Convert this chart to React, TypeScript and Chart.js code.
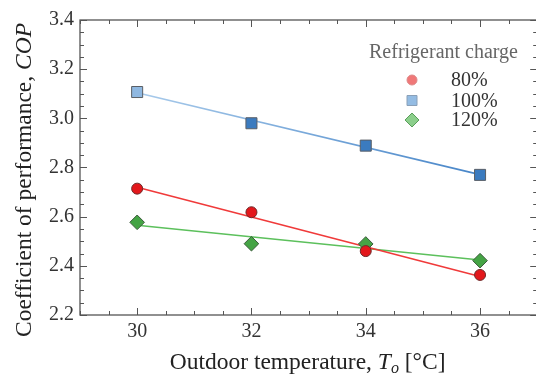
import React, { useEffect, useRef } from "react";
import { Chart, registerables } from "chart.js";

Chart.register(...registerables);

// ---- data ----
const temperatures = [30, 32, 34, 36];
const cop80 = [2.714, 2.618, 2.46, 2.363];
const cop100 = [3.107, 2.98, 2.889, 2.77];
const cop120 = [2.577, 2.49, 2.489, 2.421];

// fitted trend lines (end points)
const fitX = [30, 36];
const fit80 = [2.72, 2.357];
const fit100 = [3.104, 2.771];
const fit120 = [2.565, 2.424];

const seriesLabels = ["80%", "100%", "120%"];
const legendTitle = "Refrigerant charge";

const xTicks = [30, 32, 34, 36];
const yTicks = [2.2, 2.4, 2.6, 2.8, 3.0, 3.2, 3.4];

const FONT = "'Liberation Serif', 'Times New Roman', serif";

const pts = (xs: number[], ys: number[]) => xs.map((x, i) => ({ x, y: ys[i] }));

const framePlugin = {
  id: "frameTicks",
  afterDatasetsDraw(chart: any) {
    const { ctx, chartArea: a, scales } = chart;
    const xs = scales.x;
    const ys = scales.y;
    ctx.save();
    ctx.strokeStyle = "#555";
    ctx.lineWidth = 1.3;
    ctx.strokeRect(a.left, a.top, a.right - a.left, a.bottom - a.top);
    ctx.lineWidth = 1;
    for (let v = xs.min; v <= xs.max + 1e-9; v += 0.5) {
      const px = Math.round(xs.getPixelForValue(v)) + 0.5;
      const major = Math.abs(v / 2 - Math.round(v / 2)) < 1e-6;
      const len = major ? 7 : 4;
      ctx.beginPath();
      ctx.moveTo(px, a.bottom);
      ctx.lineTo(px, a.bottom - len);
      ctx.moveTo(px, a.top);
      ctx.lineTo(px, a.top + len);
      ctx.stroke();
    }
    for (let i = 0; i <= 24; i++) {
      const v = ys.min + i * 0.05;
      const py = Math.round(ys.getPixelForValue(v)) + 0.5;
      const len = i % 4 === 0 ? 7 : 4;
      ctx.beginPath();
      ctx.moveTo(a.left, py);
      ctx.lineTo(a.left + len, py);
      ctx.moveTo(a.right, py);
      ctx.lineTo(a.right - len, py);
      ctx.stroke();
    }
    ctx.restore();
  },
};

const titlesPlugin = {
  id: "axisTitles",
  afterDraw(chart: any) {
    const { ctx, chartArea: a } = chart;
    ctx.save();
    ctx.fillStyle = "#222";
    ctx.textBaseline = "alphabetic";
    ctx.textAlign = "left";
    const normal = `23.5px ${FONT}`;
    const italic = `italic 23.5px ${FONT}`;
    const sub = `italic 16px ${FONT}`;

    const parts: [string, string, number][] = [
      ["Outdoor temperature, ", normal, 0],
      ["T", italic, 0],
      ["o", sub, 4],
      [" [°C]", normal, 0],
    ];
    let total = 0;
    for (const [t, f] of parts) {
      ctx.font = f;
      total += ctx.measureText(t).width;
    }
    let x = (a.left + a.right) / 2 - total / 2 - 1;
    const baseY = 369;
    for (const [t, f, dy] of parts) {
      ctx.font = f;
      ctx.fillText(t, x, baseY + dy);
      x += ctx.measureText(t).width;
    }

    const yparts: [string, string][] = [
      ["Coefficient of performance, ", normal],
      ["COP", italic],
    ];
    let ytotal = 0;
    for (const [t, f] of yparts) {
      ctx.font = f;
      ytotal += ctx.measureText(t).width;
    }
    ctx.translate(31, 180);
    ctx.rotate(-Math.PI / 2);
    let yx = -ytotal / 2;
    for (const [t, f] of yparts) {
      ctx.font = f;
      ctx.fillText(t, yx, 0);
      yx += ctx.measureText(t).width;
    }
    ctx.restore();
  },
};

const legendPlugin = {
  id: "customLegend",
  afterDraw(chart: any) {
    const { ctx } = chart;
    ctx.save();
    ctx.font = `20px ${FONT}`;
    ctx.fillStyle = "#666";
    ctx.textAlign = "center";
    ctx.textBaseline = "alphabetic";
    ctx.fillText(legendTitle, 443.5, 58);

    const rowsY = [80, 100.5, 120];
    const mx = 412;
    ctx.textAlign = "left";
    ctx.textBaseline = "middle";
    rowsY.forEach((ry, i) => {
      ctx.lineWidth = 1;
      ctx.beginPath();
      if (i === 0) {
        ctx.arc(mx, ry, 5, 0, Math.PI * 2);
        ctx.fillStyle = "#f07878";
        ctx.strokeStyle = "#d88";
      } else if (i === 1) {
        ctx.rect(mx - 5, ry - 5, 10, 10);
        ctx.fillStyle = "#94bce3";
        ctx.strokeStyle = "#8aa0b8";
      } else {
        ctx.moveTo(mx, ry - 7);
        ctx.lineTo(mx + 7, ry);
        ctx.lineTo(mx, ry + 7);
        ctx.lineTo(mx - 7, ry);
        ctx.closePath();
        ctx.fillStyle = "#8ccf8c";
        ctx.strokeStyle = "#5a9e5a";
      }
      ctx.fill();
      ctx.stroke();
      ctx.fillStyle = "#333";
      ctx.font = `20px ${FONT}`;
      ctx.fillText(seriesLabels[i], 451, ry + 1);
    });
    ctx.restore();
  },
};

export default function App() {
  const ref = useRef<HTMLCanvasElement | null>(null);

  useEffect(() => {
    document.body.style.margin = "0";
    document.body.style.overflow = "hidden";
    const canvas = ref.current;
    if (!canvas) return;

    const blueGradient = (context: any) => {
      const chart = context.chart;
      const a = chart.chartArea;
      if (!a) return "#5b93cf";
      const x0 = chart.scales.x.getPixelForValue(fitX[0]);
      const x1 = chart.scales.x.getPixelForValue(fitX[1]);
      const g = chart.ctx.createLinearGradient(x0, 0, x1, 0);
      g.addColorStop(0, "#a9cbeb");
      g.addColorStop(1, "#4785c8");
      return g;
    };

    const chart = new Chart(canvas, {
      type: "scatter",
      data: {
        datasets: [
          {
            label: seriesLabels[0],
            data: pts(temperatures, cop80),
            pointStyle: "circle",
            pointRadius: 5.5,
            pointBackgroundColor: "#e3171b",
            pointBorderColor: "#6e2a2a",
            pointBorderWidth: 1,
            order: 1,
          },
          {
            label: seriesLabels[1],
            data: pts(temperatures, cop100),
            pointStyle: "rect",
            pointRadius: 7.8,
            pointBackgroundColor: ["#8fb8e1", "#3b7bbf", "#3b7bbf", "#3b7bbf"],
            pointBorderColor: "#5a5f66",
            pointBorderWidth: 1,
            order: 1,
          },
          {
            label: seriesLabels[2],
            data: pts(temperatures, cop120),
            pointStyle: "rectRot",
            pointRadius: 7.3,
            pointBackgroundColor: "#45a445",
            pointBorderColor: "#3a5a3a",
            pointBorderWidth: 1,
            order: 1,
          },
          {
            label: "fit80",
            data: pts(fitX, fit80),
            showLine: true,
            pointRadius: 0,
            borderColor: "#f03a3a",
            borderWidth: 1.6,
            order: 2,
          },
          {
            label: "fit100",
            data: pts(fitX, fit100),
            showLine: true,
            pointRadius: 0,
            borderColor: blueGradient,
            borderWidth: 1.6,
            order: 2,
          },
          {
            label: "fit120",
            data: pts(fitX, fit120),
            showLine: true,
            pointRadius: 0,
            borderColor: "#5cc05c",
            borderWidth: 1.6,
            order: 2,
          },
        ],
      },
      options: {
        responsive: false,
        animation: false,
        devicePixelRatio: 1,
        layout: { padding: { top: 20, right: 6.5, left: 0, bottom: 0 } },
        plugins: { legend: { display: false }, tooltip: { enabled: false } },
        scales: {
          x: {
            type: "linear",
            min: 29,
            max: 37,
            afterBuildTicks: (s: any) => {
              s.ticks = xTicks.map((v) => ({ value: v }));
            },
            afterFit: (s: any) => {
              s.height = 62;
            },
            grid: { display: false, drawTicks: false },
            border: { display: false },
            ticks: {
              color: "#333",
              font: { family: FONT, size: 20 },
              padding: 5,
              callback: (v: any) => String(v),
            },
          },
          y: {
            type: "linear",
            min: 2.2,
            max: 3.4,
            afterBuildTicks: (s: any) => {
              s.ticks = yTicks.map((v) => ({ value: v }));
            },
            afterFit: (s: any) => {
              s.width = 80;
            },
            grid: { display: false, drawTicks: false },
            border: { display: false },
            ticks: {
              color: "#333",
              font: { family: FONT, size: 20 },
              padding: 6,
              callback: (v: any) => Number(v).toFixed(1),
            },
          },
        },
      },
      plugins: [framePlugin, titlesPlugin, legendPlugin],
    } as any);

    return () => chart.destroy();
  }, []);

  return (
    <div style={{ width: 536, height: 377, overflow: "hidden", background: "#fff" }}>
      <canvas ref={ref} width={546} height={377} style={{ display: "block" }} />
    </div>
  );
}
